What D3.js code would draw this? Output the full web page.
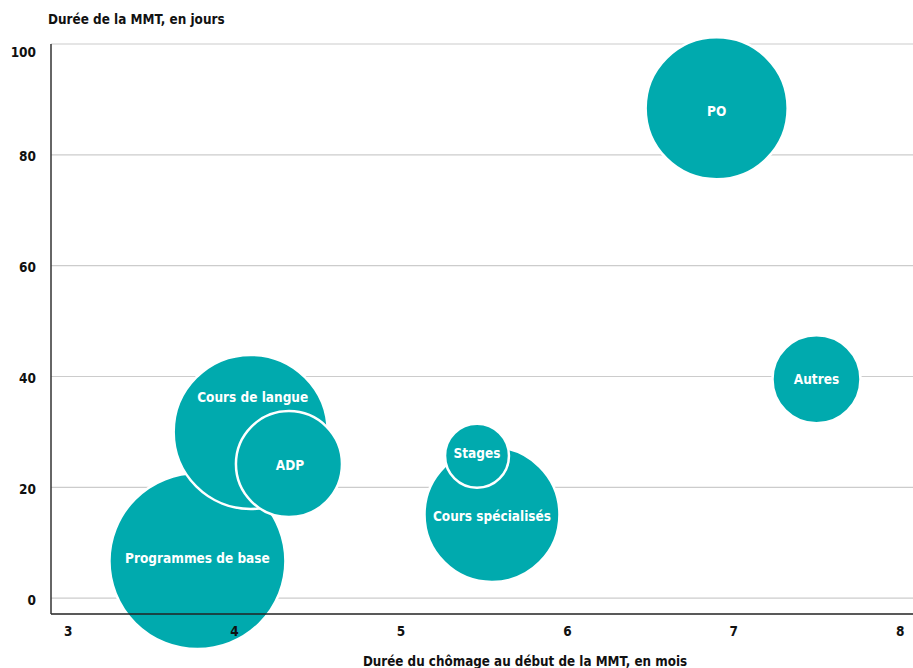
<!DOCTYPE html>
<html>
<head>
<meta charset="utf-8">
<script src="https://cdn.jsdelivr.net/npm/d3@7"></script>
<style>
  html, body { margin: 0; padding: 0; background: #fff; }
  svg { display: block; }
  text { font-family: "DejaVu Sans Condensed", "DejaVu Sans", sans-serif; font-weight: bold; }
</style>
</head>
<body>
<svg id="chart" width="913" height="668"></svg>
<script>
// Programme types
const programmes = ["Programmes de base", "Cours de langue", "ADP", "Cours spécialisés", "Stages", "PO", "Autres"];
// Unemployment duration at the start of the measure (months)
const dureeChomage = [3.78, 4.10, 4.33, 5.55, 5.46, 6.90, 7.50];
// Duration of the measure (days)
const dureeMMT = [6.7, 30.0, 24.2, 15.1, 25.7, 88.4, 39.5];
// Relative size of each programme (bubble area)
const taille = [100, 76.6, 36.3, 58.8, 13.2, 65.1, 25.0];

const xTicks = [3, 4, 5, 6, 7, 8];
const yTicks = [0, 20, 40, 60, 80, 100];

const xTitle = "Durée du chômage au début de la MMT, en mois";
const yTitle = "Durée de la MMT, en jours";

const plotLeft = 51, plotRight = 913, plotTop = 44, plotBottom = 614;
const teal = "#00aaae";

const svg = d3.select("#chart");

const x = d3.scaleLinear().domain([2.9, 8.08]).range([plotLeft, plotRight]);
const y = d3.scaleLinear().domain([-2.85, 100]).range([plotBottom, plotTop]);
const r = d3.scaleSqrt().domain([0, 100]).range([0, 88]);

// Horizontal gridlines
svg.append("g")
  .selectAll("line")
  .data(yTicks)
  .join("line")
  .attr("x1", plotLeft).attr("x2", plotRight)
  .attr("y1", d => y(d)).attr("y2", d => y(d))
  .attr("stroke", "#cccccc")
  .attr("stroke-width", 1.2);

// Bubbles
const data = programmes.map((p, i) => ({ name: p, x: dureeChomage[i], y: dureeMMT[i], s: taille[i] }));

const g = svg.append("g");
g.selectAll("circle")
  .data(data)
  .join("circle")
  .attr("cx", d => x(d.x))
  .attr("cy", d => y(d.y))
  .attr("r", d => r(d.s))
  .attr("fill", teal)
  .attr("stroke", "#ffffff")
  .attr("stroke-width", 2.5);

// Bubble labels
const labelDx = { "Cours de langue": 2, "ADP": 1 };
const labelDy = { "Cours de langue": -34, "Programmes de base": -2, "ADP": 2, "Stages": -2, "Cours spécialisés": 2, "PO": 4, "Autres": 1 };
g.selectAll("text")
  .data(data)
  .join("text")
  .attr("x", d => x(d.x) + (labelDx[d.name] || 0))
  .attr("y", d => y(d.y) + labelDy[d.name])
  .attr("text-anchor", "middle")
  .attr("dominant-baseline", "middle")
  .attr("fill", "#ffffff")
  .attr("font-size", 13.5)
  .text(d => d.name);

// Axes
const xAxis = svg.append("g")
  .attr("transform", `translate(0,${plotBottom})`)
  .call(d3.axisBottom(x).tickValues(xTicks).tickSize(0).tickPadding(12).tickFormat(d3.format("d")));
xAxis.select(".domain").attr("stroke", "#222").attr("stroke-width", 1.5).attr("d", `M${plotLeft},0H${plotRight}`);
xAxis.selectAll("text").attr("font-size", 13.5).attr("fill", "#111");

const yAxis = svg.append("g")
  .attr("transform", `translate(${plotLeft},0)`)
  .call(d3.axisLeft(y).tickValues(yTicks).tickSize(0).tickPadding(15).tickFormat(d3.format("d")));
yAxis.select(".domain").attr("stroke", "#333").attr("stroke-width", 1.5).attr("d", `M0,${plotTop}V${plotBottom}`);
yAxis.selectAll("text").attr("font-size", 13.5).attr("fill", "#111").attr("dy", "0.45em");
yAxis.selectAll("text").filter(d => d === 100).attr("dy", "0.9em");

svg.selectAll("g").attr("font-family", null).attr("font-size", null);

// Axis titles
svg.append("text")
  .attr("x", 48).attr("y", 24)
  .attr("font-size", 13.4)
  .attr("fill", "#111")
  .text(yTitle);

svg.append("text")
  .attr("x", 525).attr("y", 666)
  .attr("text-anchor", "middle")
  .attr("font-size", 13.3)
  .attr("fill", "#111")
  .text(xTitle);
</script>
</body>
</html>
